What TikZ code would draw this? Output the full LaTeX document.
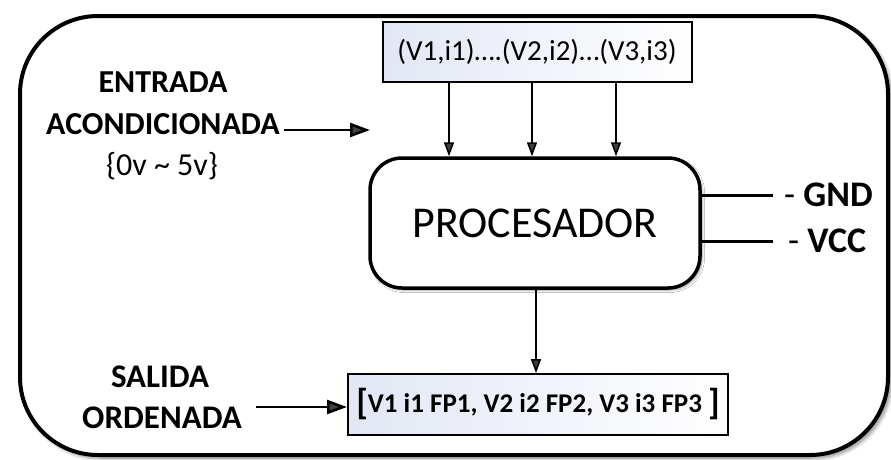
\documentclass[tikz,border=0pt]{standalone}
\usepackage{fontspec}
\setmainfont{Carlito}
\usetikzlibrary{arrows.meta,shadows.blur}

\definecolor{boxtint}{RGB}{226,231,244}

\tikzset{
  frame/.style={draw=black, line width=4pt, rounded corners=78pt, fill=white,
    blur shadow={shadow xshift=3pt, shadow yshift=-3pt, shadow blur radius=4pt, shadow blur steps=10, shadow opacity=50}},
  databox/.style={draw=black, line width=2pt, left color=boxtint, right color=white,
    inner sep=0pt, anchor=center},
  procbox/.style={draw=black, line width=3.5pt, rounded corners=32pt, fill=white,
    minimum width=330pt, minimum height=130pt, inner sep=0pt,
    blur shadow={shadow xshift=2pt, shadow yshift=-2pt, shadow blur radius=2.5pt, shadow blur steps=6, shadow opacity=40}},
  label/.style={inner sep=0pt, align=center, font=\fontsize{32}{38}\selectfont\bfseries},
  feed/.style={line width=1.6pt, -{Triangle[length=14pt,width=10pt]}},
  bigfeed/.style={line width=2.6pt, -{Triangle[length=20pt,width=14pt]}},
  rail/.style={line width=3pt},
}

\begin{document}
\begin{tikzpicture}[x=1pt,y=-1pt]
  \useasboundingbox (0,0) rectangle (891,459);

  % outer frame
  \path[frame] (20,16) rectangle (888,455);

  % sampled values
  \node[databox, minimum width=309pt, minimum height=60pt,
        font=\fontsize{29}{32}\selectfont] (samples) at (537,52) {(V1,i1)….(V2,i2)…(V3,i3)};

  % processor
  \node[procbox, font=\fontsize{44}{50}\selectfont] (proc) at (535,223) {PROCESADOR};

  % ordered output
  \node[databox, minimum width=380pt, minimum height=61pt,
        font=\fontsize{27}{32}\selectfont\bfseries] (result) at (538,404.5)
        {\raisebox{-2pt}{\fontsize{36}{36}\selectfont [}V1 i1 FP1, V2 i2 FP2, V3 i3 FP3 \raisebox{-2pt}{\fontsize{36}{36}\selectfont ]}};

  % sample feeds into the processor
  \coordinate (f1) at (449,82);
  \coordinate (f2) at (532,82);
  \coordinate (f3) at (616,82);
  \draw[feed] (f1) -- (f1 |- proc.north);
  \draw[feed] (f2) -- (f2 |- proc.north);
  \draw[feed] (f3) -- (f3 |- proc.north);

  % processor to output
  \coordinate (o1) at (536,288);
  \draw[feed] (o1 |- proc.south) -- (o1 |- result.north);

  % input labels
  \node[label] (entrada) at (163,82) {ENTRADA};
  \node[label] (acond) at (163,124) {ACONDICIONADA};
  \node[inner sep=0pt, font=\fontsize{32}{38}\selectfont] (range) at (162,166) {\{0v \textasciitilde\ 5v\}};
  \coordinate (inA) at (284,130);
  \coordinate (inB) at (370,130);
  \draw[bigfeed] (inA) -- (inB);

  % output labels
  \node[label, font=\fontsize{33}{38}\selectfont\bfseries] (salida) at (160,377) {SALIDA};
  \node[label, font=\fontsize{33}{38}\selectfont\bfseries] (orden) at (162,418) {ORDENADA};
  \coordinate (outA) at (256,407);
  \draw[bigfeed] (outA) -- (result.west |- outA);

  % supply rails
  \coordinate (gndend) at (773,195);
  \coordinate (vccend) at (773,241);
  \draw[rail] (proc.east |- gndend) -- (gndend);
  \draw[rail] (proc.east |- vccend) -- (vccend);
  \node[inner sep=0pt, anchor=west, font=\fontsize{36}{40}\selectfont] (gnd) at (784,195) {- \textbf{GND}};
  \node[inner sep=0pt, anchor=west, font=\fontsize{36}{40}\selectfont] (vcc) at (788,241) {- \textbf{VCC}};
\end{tikzpicture}
\end{document}
